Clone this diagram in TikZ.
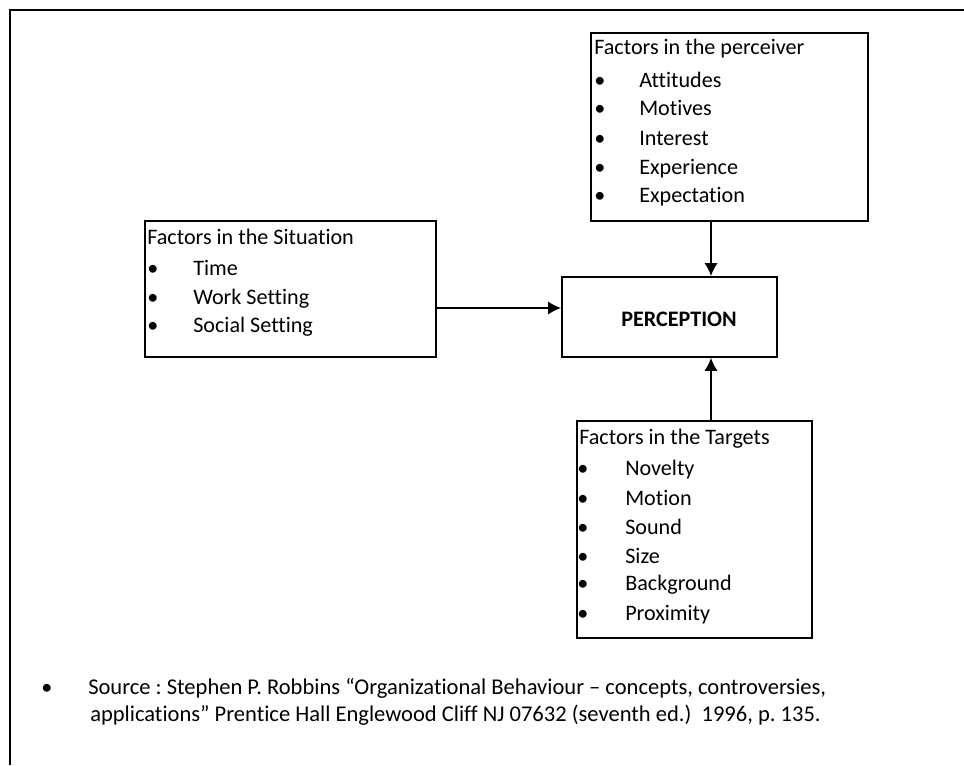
\documentclass[tikz,border=0pt]{standalone}
\usepackage{fontspec}
\setmainfont{Carlito}[Ligatures=NoCommon]
\usetikzlibrary{arrows.meta}
\frenchspacing
\newcommand{\fsz}{\fontsize{16.6}{19}\selectfont}
\newcommand{\fsrc}{\fontsize{16.9}{19}\selectfont}
\begin{document}
\begin{tikzpicture}[x=0.75pt,y=-0.75pt,
  box/.style={draw, line width=1.4pt, inner sep=0pt, anchor=north west},
  txt/.style={anchor=base west, inner sep=0pt, font=\fsz},
  bul/.style={anchor=base, inner sep=0pt, font=\fsz},
  arr/.style={line width=1.1pt, -{Latex[length=9.75pt,width=10pt]}}]
\useasboundingbox (0,0) rectangle (964,765);
% frame
\draw[line width=1.5pt] (10,765) -- (10,10) -- (964,10);
% boxes
\node[box, minimum width=207.75pt, minimum height=141pt] (perceiver) at (590,32) {};
\node[box, minimum width=218.25pt, minimum height=102pt] (situation) at (144,220) {};
\node[box, minimum width=161.25pt, minimum height=60pt] (perception) at (561,276) {};
\node[box, minimum width=176.25pt, minimum height=162.75pt] (targets) at (576,420) {};
% perceiver text
\node[txt] (p0) at (594,54) {Factors in the perceiver};
\foreach \y/\t [count=\i] in {87/Attitudes,115/Motives,145/Interest,174/Experience,202/Expectation}{
  \node[bul] (pb\i) at (600,\y) {•};
  \node[txt] (pt\i) at (639,\y) {\t};
}
% situation text
\node[txt] (s0) at (147,244) {Factors in the Situation};
\foreach \y/\t [count=\i] in {275/Time,304/Work Setting,332/Social Setting}{
  \node[bul] (sb\i) at (153,\y) {•};
  \node[txt] (st\i) at (193,\y) {\t};
}
% targets text
\node[txt] (t0) at (579,444) {Factors in the Targets};
\foreach \y/\t [count=\i] in {475/Novelty,505/Motion,534/Sound,563/Size,590/Background,620/Proximity}{
  \node[bul] (tb\i) at (583,\y) {•};
  \node[txt] (tt\i) at (625,\y) {\t};
}
% perception label
\node[inner sep=0pt, font=\fsz\bfseries] (plabel) at (679,319) {PERCEPTION};
% connectors
\coordinate (ax) at (711,0);
\coordinate (ay) at (0,308);
\draw[arr] (perceiver.south -| ax) -- (perception.north -| ax);
\draw[arr] (targets.north -| ax) -- (perception.south -| ax);
\draw[arr] (situation.east |- ay) -- (perception.west |- ay);
% source note
\node[bul] (fb) at (47,694) {•};
\node[txt, font=\fsrc] (f1) at (88,694) {Source : Stephen P. Robbins “Organizational Behaviour – concepts, controversies,};
\node[txt, font=\fsrc] (f2) at (90,721) {applications” Prentice Hall Englewood Cliff NJ 07632 (seventh ed.)\ \ 1996, p. 135.};
\end{tikzpicture}
\end{document}
